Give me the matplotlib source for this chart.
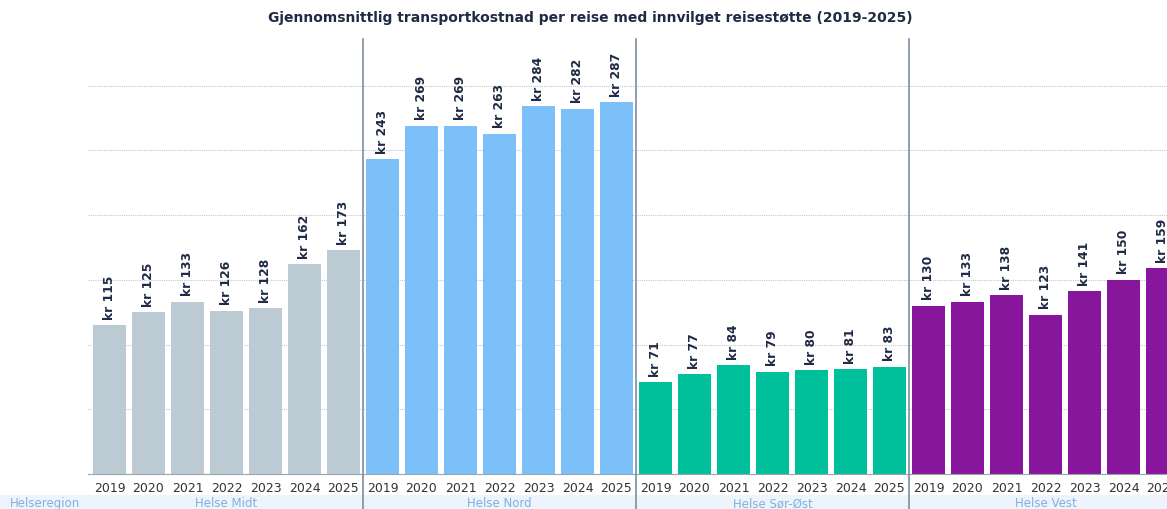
import numpy as np
import matplotlib.pyplot as plt
from matplotlib.patches import Rectangle

regions = ["Helse Midt", "Helse Nord", "Helse Sør-Øst", "Helse Vest"]
years = ["2019", "2020", "2021", "2022", "2023", "2024", "2025"]
midt = [115, 125, 133, 126, 128, 162, 173]
nord = [243, 269, 269, 263, 284, 282, 287]
sorost = [71, 77, 84, 79, 80, 81, 83]
vest = [130, 133, 138, 123, 141, 150, 159]
colors = ["#bccbd3", "#7cc0fa", "#00c09b", "#87169d"]

W, H = 1167, 510
fig = plt.figure(figsize=(W / 100, H / 100), dpi=100)
# axes in pixel coords: left 88, right 1167, bottom 475, top 40
ax = fig.add_axes([88 / W, (H - 475) / H, (W - 88) / W, (475 - 40) / H])

# light blue band behind region labels
fig.patches.append(Rectangle((0, 0), 1, (H - 496) / H, transform=fig.transFigure,
                             facecolor="#eef4fb", edgecolor="none", zorder=-1))

all_vals = [midt, nord, sorost, vest]
xticks, xlabels = [], []
for g, vals in enumerate(all_vals):
    x = g * 7 + np.arange(7)
    ax.bar(x, vals, width=0.85, color=colors[g], zorder=2)
    for xi, v in zip(x, vals):
        ax.text(xi, v + 5, f"kr {v}", rotation=90, ha="center", va="bottom",
                fontsize=8.8, fontweight="bold", color="#1f2a44", zorder=3)
    xticks += list(x)
    xlabels += years
    # region label
    ax.text(g * 7 + 3, -0.066, regions[g], transform=ax.get_xaxis_transform(),
            ha="center", va="center", fontsize=8.5, color="#7fb1e0",
            clip_on=False, zorder=5)

for s in [6.5, 13.5, 20.5]:
    ax.axvline(s, ymin=-0.09, ymax=1, color="#7d8ea3", linewidth=1.2, clip_on=False, zorder=4)

fig.text(45 / W, 1 - 504 / H, "Helseregion", ha="center", va="center",
         fontsize=8.5, color="#7fb1e0")

ax.set_xlim(-0.55, (W - 88) / 39 - 0.55)
ax.set_ylim(0, 336)
ax.set_yticks([50, 100, 150, 200, 250, 300])
ax.yaxis.grid(True, linestyle=(0, (1, 1)), color="#c8c8c8", linewidth=0.8)
ax.set_axisbelow(True)
ax.tick_params(axis="y", left=False, labelleft=False)
ax.set_xticks(xticks)
ax.set_xticklabels(xlabels, fontsize=9, color="#333333")
ax.tick_params(axis="x", length=0, pad=5)
for sp in ["top", "right", "left"]:
    ax.spines[sp].set_visible(False)
ax.spines["bottom"].set_color("#9aa4ad")
ax.patch.set_alpha(0)

fig.text(590 / W, 1 - 18 / H,
         "Gjennomsnittlig transportkostnad per reise med innvilget reisestøtte (2019-2025)",
         ha="center", va="center", fontsize=10, fontweight="bold", color="#1f2a44")

fig.savefig("out.png", dpi=100)
